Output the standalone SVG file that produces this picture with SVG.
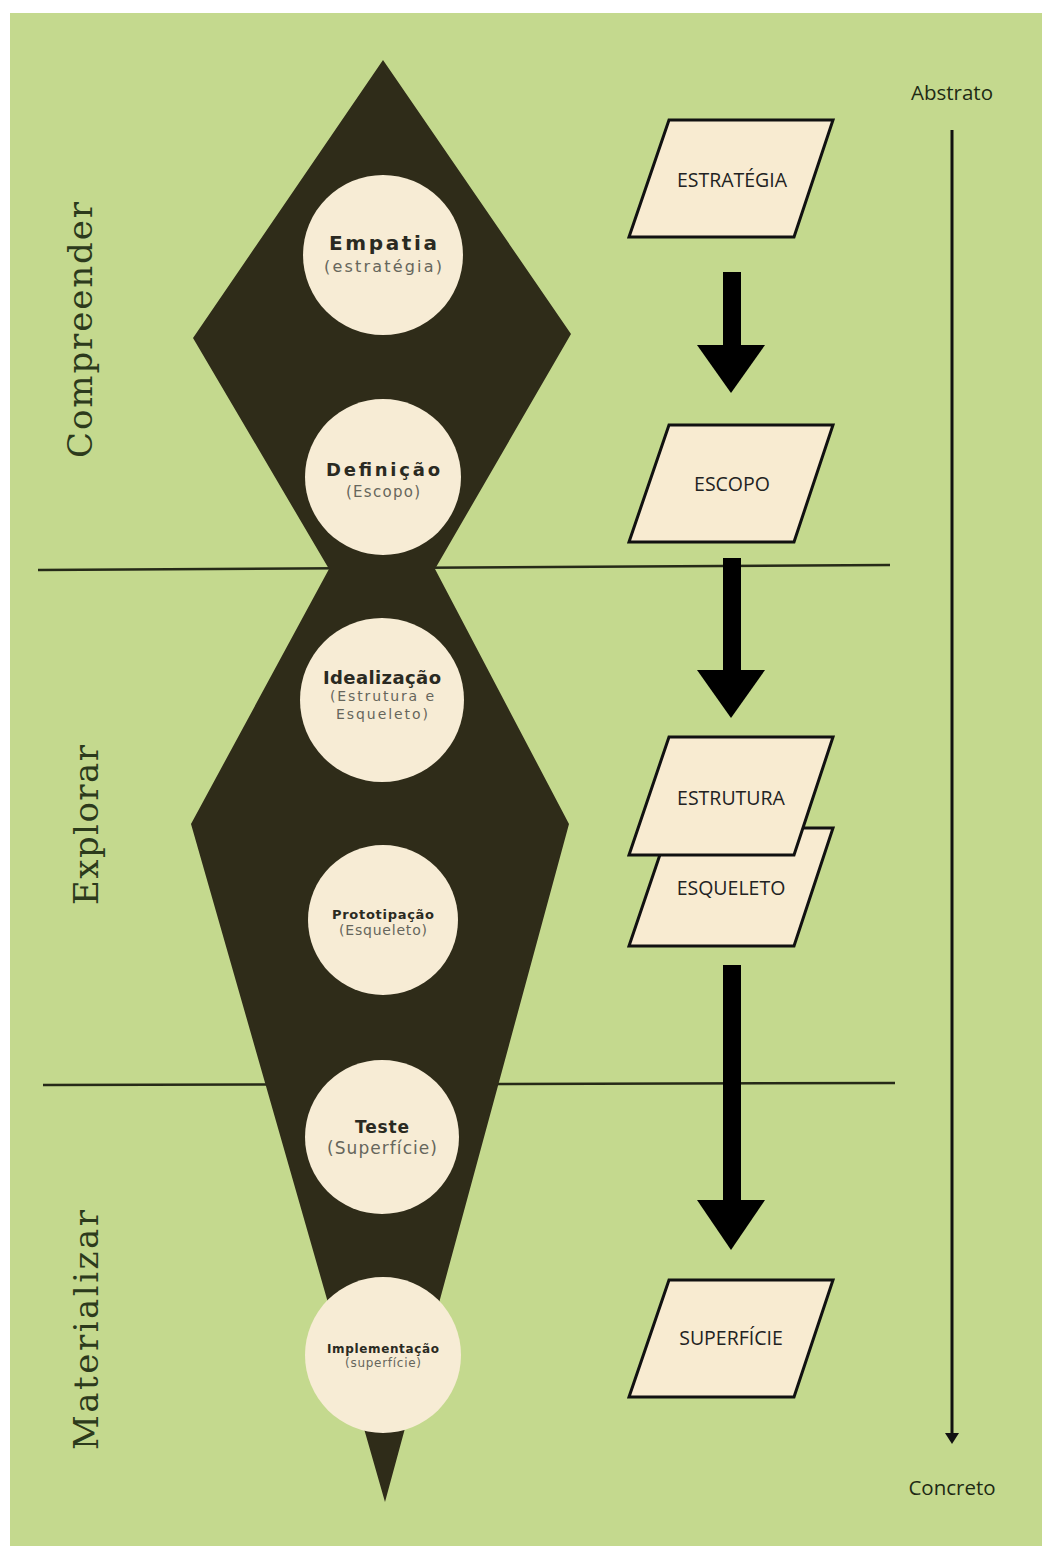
<svg xmlns="http://www.w3.org/2000/svg" width="1052" height="1557" viewBox="0 0 1052 1557">
<style>
.circ{fill:#f7ecd5}
.t1{font-family:"DejaVu Sans",sans-serif;font-weight:bold;fill:#2a2a22;text-anchor:middle}
.t2{font-family:"DejaVu Sans",sans-serif;fill:#66665c;text-anchor:middle}
.para{fill:#f8ebd1;stroke:#111;stroke-width:3;stroke-linejoin:miter}
.pt{font-family:"Open Sans",sans-serif;font-size:19.5px;fill:#222;text-anchor:middle}
.side{font-family:"DejaVu Serif",serif;font-size:34px;fill:#2c3a1c;text-anchor:middle}
.lbl{font-family:"Open Sans",sans-serif;font-size:20.5px;fill:#1e2a14;text-anchor:middle}
.big{fill:#000}
</style>
<rect x="0" y="0" width="1052" height="1557" fill="#ffffff"/>
<rect x="10" y="13" width="1032" height="1533" fill="#c4d98e"/>

<g id="phase-lines">
<line x1="38" y1="570" x2="890" y2="565" stroke="#262a18" stroke-width="2.5"/>
<line x1="43" y1="1085" x2="895" y2="1083" stroke="#262a18" stroke-width="2.5"/>
</g>

<g id="shape">
<polygon points="383,60 571,334 435,569 569,824 385,1502 191,824 329,569 193,338" fill="#2f2c19"/>
</g>

<g id="labels-side">
<text class="side" transform="translate(92,330) rotate(-90)" textLength="256" lengthAdjust="spacing">Compreender</text>
<text class="side" transform="translate(98,825) rotate(-90)" textLength="160" lengthAdjust="spacing">Explorar</text>
<text class="side" transform="translate(98,1330) rotate(-90)" textLength="240" lengthAdjust="spacing">Materializar</text>
</g>

<g id="node-empatia">
<circle class="circ" cx="383" cy="255" r="80"/>
<text class="t1" x="383" y="250" font-size="20" textLength="108" lengthAdjust="spacing">Empatia</text>
<text class="t2" x="383" y="272" font-size="16" textLength="118" lengthAdjust="spacing">(estratégia)</text>
</g>
<g id="node-definicao">
<circle class="circ" cx="383" cy="477" r="78"/>
<text class="t1" x="383" y="476" font-size="18" textLength="114" lengthAdjust="spacing">Definição</text>
<text class="t2" x="383" y="497" font-size="15" textLength="74" lengthAdjust="spacing">(Escopo)</text>
</g>
<g id="node-idealizacao">
<circle class="circ" cx="382" cy="700" r="82"/>
<text class="t1" x="382" y="684" font-size="18" textLength="118" lengthAdjust="spacing">Idealização</text>
<text class="t2" x="382" y="701" font-size="14" textLength="104" lengthAdjust="spacing">(Estrutura e</text>
<text class="t2" x="382" y="719" font-size="14" textLength="92" lengthAdjust="spacing">Esqueleto)</text>
</g>
<g id="node-prototipacao">
<circle class="circ" cx="383" cy="920" r="75"/>
<text class="t1" x="383" y="919" font-size="13" textLength="102" lengthAdjust="spacing">Prototipação</text>
<text class="t2" x="383" y="935" font-size="14" textLength="88" lengthAdjust="spacing">(Esqueleto)</text>
</g>
<g id="node-teste">
<circle class="circ" cx="382" cy="1137" r="77"/>
<text class="t1" x="382" y="1133" font-size="17" textLength="54" lengthAdjust="spacing">Teste</text>
<text class="t2" x="382" y="1154" font-size="17" textLength="110" lengthAdjust="spacing">(Superfície)</text>
</g>
<g id="node-implementacao">
<circle class="circ" cx="383" cy="1355" r="78"/>
<text class="t1" x="383" y="1353" font-size="12" textLength="112" lengthAdjust="spacing">Implementação</text>
<text class="t2" x="383" y="1367" font-size="12" textLength="76" lengthAdjust="spacing">(superfície)</text>
</g>

<g id="connectors">
<rect class="big" x="723" y="272" width="18" height="74"/>
<polygon class="big" points="697,345 765,345 731,393"/>
<rect class="big" x="723" y="558" width="18" height="114"/>
<polygon class="big" points="697,670 765,670 731,718"/>
<rect class="big" x="723" y="965" width="18" height="236"/>
<polygon class="big" points="697,1200 765,1200 731,1250"/>
<line x1="952" y1="130" x2="952" y2="1436" stroke="#111" stroke-width="3"/>
<polygon points="945,1433 959,1433 952,1444" fill="#111"/>
</g>

<g id="node-estrategia">
<path class="para" d="M669,120 L833,120 L794,237 L629,237 Z"/>
<text class="pt" x="732" y="187">ESTRATÉGIA</text>
</g>
<g id="node-escopo">
<path class="para" d="M669,425 L833,425 L794,542 L629,542 Z"/>
<text class="pt" x="732" y="491">ESCOPO</text>
</g>
<g id="node-esqueleto">
<path class="para" d="M669,828 L833,828 L794,946 L629,946 Z"/>
<text class="pt" x="731" y="895">ESQUELETO</text>
</g>
<g id="node-estrutura">
<path class="para" d="M669,737 L833,737 L794,855 L629,855 Z"/>
<text class="pt" x="731" y="805">ESTRUTURA</text>
</g>
<g id="node-superficie">
<path class="para" d="M669,1280 L833,1280 L794,1397 L629,1397 Z"/>
<text class="pt" x="731" y="1345">SUPERFÍCIE</text>
</g>

<g id="axis-labels">
<text class="lbl" x="952" y="100">Abstrato</text>
<text class="lbl" x="952" y="1495">Concreto</text>
</g>
</svg>
